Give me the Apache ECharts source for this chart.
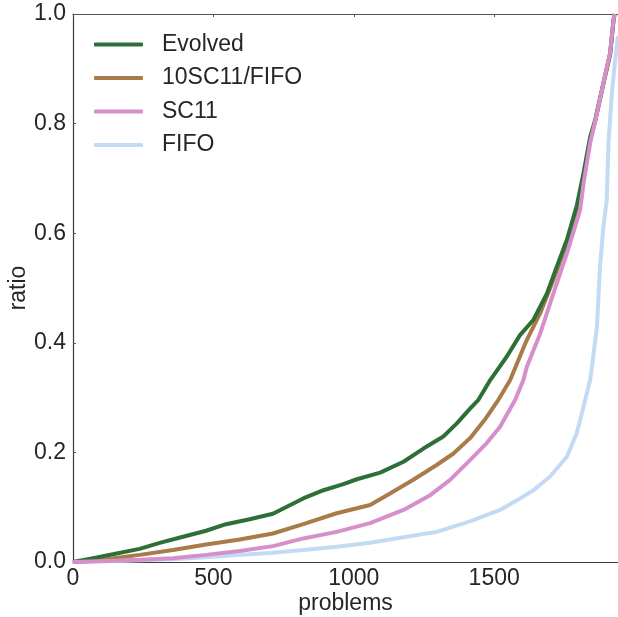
<html>
<head>
<meta charset="utf-8">
<title>ratio vs problems</title>
<script src="https://cdn.jsdelivr.net/npm/echarts@6/dist/echarts.min.js"></script>
</head>
<body style="margin:0;background:#fff">
<div id="main" style="width:618px;height:617px;"></div>
<script>
// 数据
var seriesNames = ['Evolved', '10SC11/FIFO', 'SC11', 'FIFO'];
var xTicks = [0, 500, 1000, 1500];
var yTicks = [0.0, 0.2, 0.4, 0.6, 0.8, 1.0];

var evolvedX = [0, 71, 142, 237, 309, 392, 474, 545, 629, 712, 820, 892, 963, 1011, 1094, 1177, 1248, 1319, 1367, 1414, 1444, 1486, 1545, 1592, 1640, 1688, 1723, 1759, 1794, 1818, 1842, 1860, 1889, 1913, 1925, 1929];
var evolvedY = [0, 0.007, 0.014, 0.024, 0.035, 0.046, 0.057, 0.069, 0.078, 0.088, 0.116, 0.131, 0.142, 0.151, 0.163, 0.183, 0.207, 0.229, 0.253, 0.280, 0.296, 0.332, 0.375, 0.414, 0.442, 0.490, 0.539, 0.588, 0.650, 0.709, 0.776, 0.807, 0.874, 0.928, 0.989, 1.0];

var mixX = [0, 60, 118, 237, 356, 474, 594, 712, 820, 939, 1058, 1129, 1212, 1295, 1355, 1414, 1470, 1515, 1557, 1616, 1664, 1711, 1759, 1806, 1818, 1842, 1860, 1889, 1913, 1925, 1929];
var mixY = [0, 0.002, 0.005, 0.013, 0.022, 0.032, 0.041, 0.052, 0.069, 0.089, 0.104, 0.125, 0.150, 0.177, 0.198, 0.226, 0.262, 0.296, 0.332, 0.405, 0.454, 0.515, 0.582, 0.655, 0.700, 0.770, 0.805, 0.872, 0.926, 0.988, 1.0];

var sc11X = [0, 120, 240, 356, 474, 594, 712, 820, 939, 1058, 1177, 1272, 1343, 1414, 1470, 1521, 1575, 1604, 1616, 1664, 1711, 1759, 1806, 1818, 1842, 1860, 1889, 1913, 1925, 1929];
var sc11Y = [0, 0.002, 0.004, 0.007, 0.013, 0.020, 0.029, 0.043, 0.055, 0.071, 0.095, 0.122, 0.150, 0.186, 0.215, 0.247, 0.296, 0.332, 0.356, 0.417, 0.490, 0.563, 0.642, 0.690, 0.765, 0.805, 0.874, 0.930, 0.990, 1.0];

var fifoX = [0, 150, 356, 474, 594, 712, 820, 939, 1058, 1177, 1295, 1414, 1521, 1592, 1640, 1699, 1759, 1794, 1818, 1824, 1842, 1848, 1866, 1877, 1889, 1901, 1907, 1919, 1931, 1941];
var fifoY = [0, 0.002, 0.005, 0.0085, 0.013, 0.017, 0.022, 0.028, 0.035, 0.045, 0.055, 0.074, 0.095, 0.116, 0.131, 0.156, 0.192, 0.235, 0.283, 0.296, 0.332, 0.356, 0.429, 0.539, 0.612, 0.660, 0.764, 0.855, 0.916, 0.960];

var colors = ['#2d6f36', '#a87b49', '#d68fcb', '#c3daf4'];

function pairs(xs, ys){
	var out = [];
	for(var i=0;i<xs.length;i++){ out.push([xs[i], ys[i]]); }
	return out;
}

var allData = [pairs(evolvedX, evolvedY), pairs(mixX, mixY), pairs(sc11X, sc11Y), pairs(fifoX, fifoY)];

var font = 'Liberation Sans, Arial, sans-serif';
var myChart = echarts.init(document.getElementById('main'));

var series = [];
for(var i=0;i<seriesNames.length;i++){
	series.push({
		name: seriesNames[i],
		type: 'line',
		data: allData[i],
		showSymbol: false,
		smooth: false,
		z: 10 - i,
		lineStyle: { width: 4, color: colors[i] },
		itemStyle: { color: colors[i] }
	});
}
// 粉色在最上层 (参考图中 SC11 覆盖在右上)
series[2].z = 12;

var option = {
	animation: false,
	color: colors,
	grid: { left: 73, right: 0, top: 14, bottom: 55, containLabel: false, outerBoundsMode: 'none' },
	legend: {
		orient: 'vertical',
		left: 89,
		top: 28,
		itemWidth: 49,
		itemHeight: 4,
		itemGap: 10.5,
		icon: 'roundRect',
		textStyle: { fontFamily: font, fontSize: 23, color: '#262626', padding: [0, 0, 0, 14] },
		data: seriesNames
	},
	xAxis: [{
		type: 'value',
		min: 0,
		max: 1941,
		interval: 500,
		name: 'problems',
		nameLocation: 'middle',
		nameGap: 30,
		nameMoveOverlap: false,
		nameTextStyle: { fontFamily: font, fontSize: 23, color: '#262626' },
		axisLine: { show: true, lineStyle: { color: '#3a3a3a', width: 1.2 } },
		axisTick: { show: false },
		splitLine: { show: false },
		axisLabel: {
			fontFamily: font, fontSize: 23, color: '#262626', margin: 5, showMaxLabel: false,
			formatter: function(v){ return String(v); }
		}
	}, {
		type: 'value',
		position: 'top',
		min: 0,
		max: 1941,
		interval: 500,
		axisLine: { show: true, lineStyle: { color: '#555', width: 1.2 } },
		axisTick: { show: true, inside: true, length: 3, lineStyle: { color: '#555' } },
		axisLabel: { show: false },
		splitLine: { show: false }
	}],
	yAxis: {
		type: 'value',
		min: 0,
		max: 1,
		interval: 0.2,
		name: 'ratio',
		nameLocation: 'middle',
		nameGap: 43,
		nameMoveOverlap: false,
		nameTextStyle: { fontFamily: font, fontSize: 23, color: '#262626' },
		axisLine: { show: true, lineStyle: { color: '#3a3a3a', width: 1.2 } },
		axisTick: { show: true, inside: true, length: 3, lineStyle: { color: '#555' } },
		splitLine: { show: false },
		axisLabel: {
			fontFamily: font, fontSize: 23, color: '#262626', margin: 7,
			formatter: function(v){ return v.toFixed(1); }
		}
	},
	series: series
};

myChart.setOption(option);
</script>
</body>
</html>
